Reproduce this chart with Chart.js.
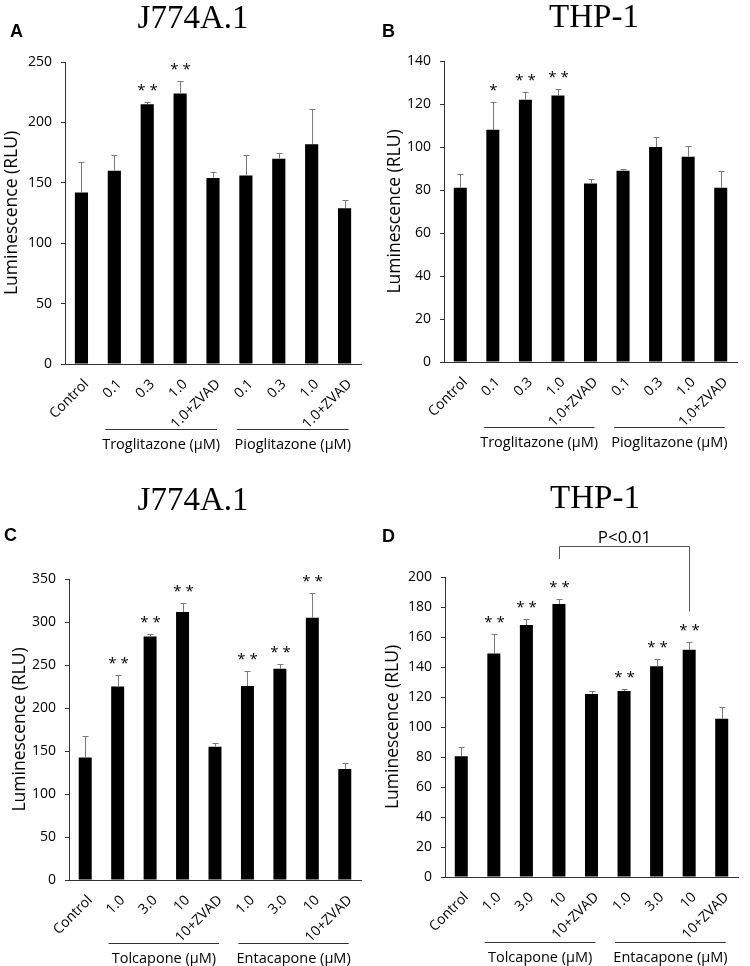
<!DOCTYPE html>
<html>
<head>
<meta charset="utf-8">
<script src="https://cdn.jsdelivr.net/npm/chart.js@4.4.0/dist/chart.umd.min.js"></script>
<style>
  html, body { margin: 0; padding: 0; background: #fff; }
  #wrap { position: relative; width: 750px; height: 966px; }
  canvas { position: absolute; }
</style>
</head>
<body>
<div id="wrap">
  <canvas id="chartA" width="375" height="480" style="left:0;top:0"></canvas>
  <canvas id="chartB" width="375" height="480" style="left:375px;top:0"></canvas>
  <canvas id="chartC" width="375" height="486" style="left:0;top:480px"></canvas>
  <canvas id="chartD" width="375" height="486" style="left:375px;top:480px"></canvas>
</div>
<script>
// categories
const labelsTro = ['Control', '0.1', '0.3', '1.0', '1.0+ZVAD', '0.1', '0.3', '1.0', '1.0+ZVAD'];
const labelsTol = ['Control', '1.0', '3.0', '10', '10+ZVAD', '1.0', '3.0', '10', '10+ZVAD'];
const groupsTro = ['Troglitazone (µM)', 'Pioglitazone (µM)'];
const groupsTol = ['Tolcapone (µM)', 'Entacapone (µM)'];

// A - J774A.1, glitazones
const meansA = [142, 160, 215, 224, 154, 156, 170, 182, 129];
const errsA = [25, 13, 2, 10, 5, 17, 5, 29, 7];
const starsA = ['', '', '**', '**', '', '', '', '', ''];

// B - THP-1, glitazones
const meansB = [81, 108, 122, 124, 83, 89, 100, 95.5, 81];
const errsB = [6.5, 13, 3.5, 3, 2, 1, 4.5, 5, 8];
const starsB = ['', '*', '**', '**', '', '', '', '', ''];

// C - J774A.1, capones
const meansC = [142.5, 225, 283, 311.5, 155, 225.5, 245.5, 305, 129];
const errsC = [24.5, 13, 3, 10.5, 4, 17, 6, 29, 7];
const starsC = ['', '**', '**', '**', '', '**', '**', '**', ''];

// D - THP-1, capones
const meansD = [80.5, 149, 168, 182, 122, 124, 140.5, 151.5, 105.5];
const errsD = [6.5, 13, 4, 3, 2, 1.5, 5, 5, 8];
const starsD = ['', '**', '**', '**', '', '**', '**', '**', ''];
const bracketD = { from: 3, to: 7, top: 221, leftEnd: 212, rightEnd: 177, text: 'P<0.01' };

const FONT = 'Open Sans';

const decor = (o) => ({
  id: 'decor' + o.letter,
  afterDraw(chart) {
    const ctx = chart.ctx;
    const xs = chart.scales.x;
    const ys = chart.scales.y;
    const area = chart.chartArea;
    ctx.save();

    // error bars + stars
    ctx.strokeStyle = '#7a7a7a';
    ctx.lineWidth = 1;
    ctx.fillStyle = '#000';
    ctx.textAlign = 'center';
    ctx.textBaseline = 'alphabetic';
    ctx.font = '15px "' + FONT + '"';
    o.means.forEach((m, i) => {
      const x = Math.round(xs.getPixelForValue(i)) + 0.5;
      const y0 = ys.getPixelForValue(m);
      const y1 = Math.round(ys.getPixelForValue(m + o.errs[i])) + 0.5;
      ctx.beginPath();
      ctx.moveTo(x, y0);
      ctx.lineTo(x, y1);
      ctx.moveTo(x - 3, y1);
      ctx.lineTo(x + 3, y1);
      ctx.stroke();
      if (o.stars[i]) {
        ctx.fillText(o.stars[i].split('').join(' '), x, y1 - 8);
      }
    });

    // group lines under the x labels
    ctx.strokeStyle = '#333';
    ctx.font = '14.5px "' + FONT + '"';
    ctx.textBaseline = 'middle';
    [[1, 4], [5, 8]].forEach((g, k) => {
      const x0 = xs.getPixelForValue(g[0]) - 9;
      const x1 = xs.getPixelForValue(g[1]) + 4;
      const y = Math.round(area.bottom + o.groupGap) + 0.5;
      ctx.beginPath();
      ctx.moveTo(x0, y);
      ctx.lineTo(x1, y);
      ctx.stroke();
      ctx.fillText(o.groups[k], (x0 + x1) / 2, y + 15);
    });

    // significance bracket
    if (o.bracket) {
      const b = o.bracket;
      const xa = Math.round(xs.getPixelForValue(b.from)) + 0.5;
      const xb = Math.round(xs.getPixelForValue(b.to)) + 0.5;
      const yt = Math.round(ys.getPixelForValue(b.top)) + 0.5;
      ctx.strokeStyle = '#555';
      ctx.beginPath();
      ctx.moveTo(xa, ys.getPixelForValue(b.leftEnd));
      ctx.lineTo(xa, yt);
      ctx.lineTo(xb, yt);
      ctx.lineTo(xb, ys.getPixelForValue(b.rightEnd));
      ctx.stroke();
      ctx.font = '17px "' + FONT + '"';
      ctx.textBaseline = 'alphabetic';
      ctx.fillText(b.text, (xa + xb) / 2, yt - 4);
    }

    // panel title and letter
    ctx.textBaseline = 'alphabetic';
    ctx.textAlign = 'center';
    ctx.font = '33px "Liberation Serif"';
    ctx.fillText(o.title, o.titleX, o.titleY);
    ctx.textAlign = 'left';
    ctx.font = 'bold 18px "Liberation Sans"';
    ctx.fillText(o.letter, o.letterX, o.letterY);
    ctx.restore();
  }
});

function buildChart(id, o) {
  return new Chart(document.getElementById(id), {
    type: 'bar',
    data: {
      labels: o.labels,
      datasets: [{
        data: o.means,
        backgroundColor: '#000',
        borderWidth: 0,
        barPercentage: 0.4,
        categoryPercentage: 1,
      }]
    },
    options: {
      responsive: false,
      animation: false,
      layout: { padding: o.padding },
      scales: {
        x: {
          grid: { display: false, drawTicks: false },
          border: { display: true, color: '#333' },
          ticks: {
            autoSkip: false,
            minRotation: 45,
            maxRotation: 45,
            padding: 12,
            labelOffset: 5,
            color: '#000',
            font: { family: FONT, size: 14 },
          },
          afterFit: (s) => { s.height = 80; },
        },
        y: {
          min: 0,
          max: o.yMax,
          grid: { drawOnChartArea: false, tickLength: 4, color: '#333' },
          border: { color: '#333' },
          ticks: {
            stepSize: o.yStep,
            padding: 9,
            color: '#000',
            font: { family: FONT, size: 14 },
          },
          title: {
            display: true,
            text: 'Luminescence (RLU)',
            color: '#000',
            font: { family: FONT, size: 17.5 },
            padding: { top: o.titlePad, bottom: 0 },
          },
          afterFit: (s) => { s.width = o.yWidth; },
        }
      },
      plugins: {
        legend: { display: false },
        tooltip: { enabled: false },
      }
    },
    plugins: [decor(o)]
  });
}

buildChart('chartA', {
  labels: labelsTro, groups: groupsTro, means: meansA, errs: errsA, stars: starsA,
  yMax: 250, yStep: 50, yWidth: 65, titlePad: 2, groupGap: 65,
  padding: { left: 0, top: 62, right: 14, bottom: 36 },
  title: 'J774A.1', titleX: 193, titleY: 28, letter: 'A', letterX: 10, letterY: 37,
});

buildChart('chartB', {
  labels: labelsTro, groups: groupsTro, means: meansB, errs: errsB, stars: starsB,
  yMax: 140, yStep: 20, yWidth: 65, titlePad: 6, groupGap: 65,
  padding: { left: 4, top: 61, right: 13, bottom: 38 },
  title: 'THP-1', titleX: 219, titleY: 27, letter: 'B', letterX: 7, letterY: 37,
});

buildChart('chartC', {
  labels: labelsTol, groups: groupsTol, means: meansC, errs: errsC, stars: starsC,
  yMax: 350, yStep: 50, yWidth: 65, titlePad: 6, groupGap: 63,
  padding: { left: 4, top: 99, right: 14, bottom: 6 },
  title: 'J774A.1', titleX: 193, titleY: 30, letter: 'C', letterX: 4, letterY: 61,
});

buildChart('chartD', {
  labels: labelsTol, groups: groupsTol, means: meansD, errs: errsD, stars: starsD,
  bracket: bracketD,
  yMax: 200, yStep: 20, yWidth: 66, titlePad: 4, groupGap: 65,
  padding: { left: 4, top: 97, right: 12, bottom: 9 },
  title: 'THP-1', titleX: 220, titleY: 28, letter: 'D', letterX: 7, letterY: 62,
});
</script>
</body>
</html>
